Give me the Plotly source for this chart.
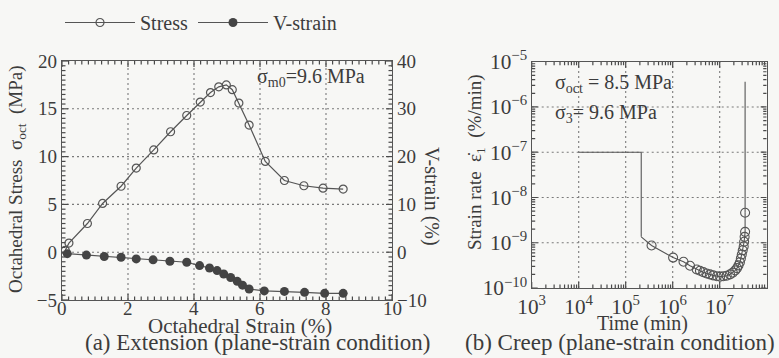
import math
import plotly.graph_objects as go

# ---- data: (a) extension ----
stress_x = [0.10, 0.21, 0.77, 1.23, 1.79, 2.25, 2.78, 3.29, 3.78, 4.19, 4.50, 4.75, 4.98, 5.16, 5.36, 5.67, 6.16, 6.74, 7.33, 7.91, 8.52]
stress_y = [0.2, 0.95, 3.0, 5.1, 6.9, 8.8, 10.7, 12.6, 14.3, 15.7, 16.7, 17.3, 17.5, 17.0, 15.6, 13.3, 9.5, 7.5, 6.95, 6.7, 6.6]
vstrain_x = [0.16, 0.74, 1.28, 1.79, 2.25, 2.76, 3.27, 3.78, 4.17, 4.47, 4.70, 4.90, 5.11, 5.31, 5.47, 5.67, 6.13, 6.74, 7.35, 7.96, 8.52]
vstrain_y = [-0.3, -0.6, -0.9, -1.05, -1.4, -1.6, -1.9, -2.1, -2.8, -3.3, -3.85, -4.55, -5.3, -6.1, -6.9, -7.7, -8.1, -8.2, -8.4, -8.6, -8.6]

# ---- data: (b) creep ----
step_time = [1.0e4, 2.14e5, 2.14e5]
step_rate = [1.0e-7, 1.0e-7, 1.35e-9]
creep_time = [3.55e5, 1.02e6, 1.7e6, 2.34e6, 3.24e6, 3.8e6, 4.47e6, 5.25e6, 6.17e6, 7.24e6, 8.7e6,
              1.02e7, 1.2e7, 1.41e7, 1.66e7, 1.9e7, 2.14e7, 2.34e7, 2.51e7, 2.69e7, 2.82e7, 2.95e7,
              3.09e7, 3.24e7, 3.31e7, 3.39e7, 3.47e7, 3.47e7]
creep_rate = [8.7e-10, 4.7e-10, 3.8e-10, 3.1e-10, 2.57e-10, 2.4e-10, 2.24e-10, 2.09e-10, 2.0e-10, 1.9e-10, 1.82e-10,
              1.78e-10, 1.82e-10, 1.86e-10, 2.0e-10, 2.19e-10, 2.45e-10, 2.75e-10, 3.16e-10, 3.7e-10, 4.5e-10, 5.5e-10,
              6.8e-10, 8.3e-10, 1.05e-9, 1.35e-9, 1.74e-9, 4.6e-9]
final_time = [3.47e7, 3.47e7]
final_rate = [4.6e-9, 3.6e-6]

# tick labels
x_ticks_a = [0, 2, 4, 6, 8, 10]
y_ticks_a = [-5, 0, 5, 10, 15, 20]
y2_ticks_a = [-10, 0, 10, 20, 30, 40]
log_x_exponents = [3, 4, 5, 6, 7, 8]
log_y_exponents = [-10, -9, -8, -7, -6, -5]

W, H = 779, 358
FONT = "Liberation Serif"
TXT = "#3c3c3c"
LINE = "#555555"
TICK = "#4a4a4a"
GRID = "#7a7a7a"
BG = "#f7f7f5"

# panel geometry (px)
AX0, AX1, AY0, AY1 = 62, 392, 61, 300
BX0, BX1, BY0, BY1 = 531.7, 766.7, 61.7, 288

fig = go.Figure()

def segs(pairs, xaxis, yaxis, color, width, dash="solid"):
    xs, ys = [], []
    for (xa, ya, xb, yb) in pairs:
        xs += [xa, xb, None]
        ys += [ya, yb, None]
    fig.add_trace(go.Scatter(x=xs, y=ys, mode="lines", showlegend=False, hoverinfo="skip",
                             line=dict(color=color, width=width, dash=dash),
                             xaxis=xaxis, yaxis=yaxis))

# ---- grid lines (dotted) at the major ticks ----
xa_lo, xa_hi = x_ticks_a[0], x_ticks_a[-1]
ya_lo, ya_hi = y_ticks_a[0], y_ticks_a[-1]
grid_a = [(v, ya_lo, v, ya_hi) for v in x_ticks_a[1:-1]] + [(xa_lo, v, xa_hi, v) for v in y_ticks_a[1:-1]]
segs(grid_a, "x", "y", GRID, 1.1, "2px,3px")
tx_lo, tx_hi = 10.0 ** log_x_exponents[0], 10.0 ** log_x_exponents[-1]
ty_lo, ty_hi = 10.0 ** log_y_exponents[0], 10.0 ** log_y_exponents[-1]
grid_b = [(10.0 ** e, ty_lo, 10.0 ** e, ty_hi) for e in log_x_exponents[1:-1]] + \
         [(tx_lo, 10.0 ** e, tx_hi, 10.0 ** e) for e in log_y_exponents[1:-1]]
segs(grid_b, "x2", "y3", GRID, 1.1, "2px,3px")

# ---- data traces ----
fig.add_trace(go.Scatter(x=stress_x, y=stress_y, mode="lines+markers", name="Stress",
                         line=dict(color=LINE, width=1.2),
                         marker=dict(symbol="circle-open", size=8, color="#555", line=dict(width=1.2)),
                         xaxis="x", yaxis="y"))
fig.add_trace(go.Scatter(x=vstrain_x, y=vstrain_y, mode="lines+markers", name="V-strain",
                         line=dict(color=LINE, width=1.2),
                         marker=dict(symbol="circle", size=9, color="#444"),
                         xaxis="x", yaxis="y2"))
fig.add_trace(go.Scatter(x=step_time, y=step_rate, mode="lines", showlegend=False,
                         line=dict(color=LINE, width=1.1), xaxis="x2", yaxis="y3"))
fig.add_trace(go.Scatter(x=[step_time[-1]] + creep_time, y=[step_rate[-1]] + creep_rate, mode="lines",
                         showlegend=False, line=dict(color=LINE, width=1.1), xaxis="x2", yaxis="y3"))
fig.add_trace(go.Scatter(x=creep_time, y=creep_rate, mode="markers", showlegend=False,
                         marker=dict(symbol="circle-open", size=9, color="#555", line=dict(width=1.1)),
                         xaxis="x2", yaxis="y3"))
fig.add_trace(go.Scatter(x=final_time, y=final_rate, mode="lines", showlegend=False,
                         line=dict(color=LINE, width=1.1), xaxis="x2", yaxis="y3"))

# ---- tick marks (inside, on all frame sides) ----
MAJ, MIN = 6.0, 3.5
ux = (xa_hi - xa_lo) / (AX1 - AX0)          # x units per px, panel a
uy = (ya_hi - ya_lo) / (AY1 - AY0)          # y units per px
uy2 = (y2_ticks_a[-1] - y2_ticks_a[0]) / (AY1 - AY0)
ticks_a, ticks_a2 = [], []
for i in range(51):
    v = xa_lo + 0.2 * i
    ln = MAJ if abs(v / 2 - round(v / 2)) < 1e-6 else MIN
    ticks_a.append((v, ya_lo, v, ya_lo + ln * uy))
    ticks_a.append((v, ya_hi, v, ya_hi - ln * uy))
for i in range(51):
    v = ya_lo + 0.5 * i
    ln = MAJ if abs(v / 5 - round(v / 5)) < 1e-6 else MIN
    ticks_a.append((xa_lo, v, xa_lo + ln * ux, v))
for i in range(51):
    v = y2_ticks_a[0] + 1.0 * i
    ln = MAJ if abs(v / 10 - round(v / 10)) < 1e-6 else MIN
    ticks_a2.append((xa_hi, v, xa_hi - ln * ux, v))
segs(ticks_a, "x", "y", TICK, 1.2)
segs(ticks_a2, "x", "y2", TICK, 1.2)

dx = (log_x_exponents[-1] - log_x_exponents[0]) / (BX1 - BX0)   # decades per px
dy = (log_y_exponents[-1] - log_y_exponents[0]) / (BY1 - BY0)
ticks_b = []
for e in log_x_exponents[:-1]:
    for k in range(1, 10):
        v = k * 10.0 ** e
        ln = MAJ if k == 1 else MIN
        ticks_b.append((v, ty_lo, v, ty_lo * 10 ** (ln * dy)))
        ticks_b.append((v, ty_hi, v, ty_hi / 10 ** (ln * dy)))
for e in log_y_exponents[:-1]:
    for k in range(1, 10):
        v = k * 10.0 ** e
        ln = MAJ if k == 1 else MIN
        ticks_b.append((tx_lo, v, tx_lo * 10 ** (ln * dx), v))
        ticks_b.append((tx_hi, v, tx_hi / 10 ** (ln * dx), v))
segs(ticks_b, "x2", "y3", TICK, 1.2)

common = dict(showline=True, linecolor=LINE, linewidth=1.3, ticks="", showgrid=False,
              zeroline=False, automargin=False)
lin_font = dict(family=FONT, size=19, color=TXT)
log_font = dict(family=FONT, size=17, color=TXT)

fig.update_layout(
    template="none",
    width=W, height=H, margin=dict(l=0, r=0, t=0, b=0, autoexpand=False),
    paper_bgcolor=BG, plot_bgcolor="rgba(0,0,0,0)",
    font=dict(family=FONT, color=TXT),
    showlegend=True, hovermode=False,
    legend=dict(orientation="h", x=60 / W, y=1 - 3 / H, xanchor="left", yanchor="top",
                font=dict(family=FONT, size=20, color=TXT), bgcolor="rgba(0,0,0,0)",
                itemwidth=70, traceorder="normal"),
    xaxis=dict(domain=[AX0 / W, AX1 / W], anchor="y", range=[xa_lo, xa_hi],
               mirror=True, showticklabels=False, **common),
    yaxis=dict(domain=[1 - AY1 / H, 1 - AY0 / H], anchor="x", range=[ya_lo, ya_hi],
               tickmode="array", tickvals=y_ticks_a, tickfont=lin_font, **common),
    yaxis2=dict(overlaying="y", side="right", anchor="x", range=[y2_ticks_a[0], y2_ticks_a[-1]],
                tickmode="array", tickvals=y2_ticks_a, tickfont=lin_font, **common),
    xaxis2=dict(domain=[BX0 / W, BX1 / W], anchor="y3", type="log",
                range=[log_x_exponents[0], log_x_exponents[-1]], dtick=1, exponentformat="power",
                mirror=True, tickfont=log_font, **common),
    yaxis3=dict(domain=[1 - BY1 / H, 1 - BY0 / H], anchor="x2", type="log",
                range=[log_y_exponents[0], log_y_exponents[-1]], dtick=1, exponentformat="power",
                mirror=True, tickfont=log_font, **common),
)

def ann(text, x, y, size=20, angle=0, xanchor="center", yanchor="middle", xref="paper"):
    fig.add_annotation(text=text, x=x if xref != "paper" else x / W, y=1 - y / H, xref=xref, yref="paper",
                       showarrow=False, textangle=angle, xanchor=xanchor, yanchor=yanchor,
                       font=dict(family=FONT, size=size, color=TXT))

for v in x_ticks_a:
    ann(str(v), v, 308, size=19, xref="x")

ann("Octahedral Strain (%)", 240, 326, size=21)
ann("(a) Extension (plane-strain condition)", 258, 342, size=23)
ann("Time (min)", 642, 323, size=20)
ann("(b) Creep (plane-strain condition)", 620, 342, size=23)
ann("Octahedral Stress  σ<sub>oct</sub>  (MPa)", 17, 179, angle=-90, size=19)
ann("V-strain (%)", 432, 196, angle=90, size=20)
ann("Strain rate  ε̇<sub>1</sub>  (%/min)", 476, 162, angle=-90, size=19)
ann("σ<sub>m0</sub>=9.6 MPa", 255, 77, xanchor="left", size=20)
ann("σ<sub>oct</sub> = 8.5 MPa", 553, 84, xanchor="left", size=20)
ann("σ<sub>3</sub>= 9.6 MPa", 553, 114, xanchor="left", size=20)

fig.write_html("out.html")
